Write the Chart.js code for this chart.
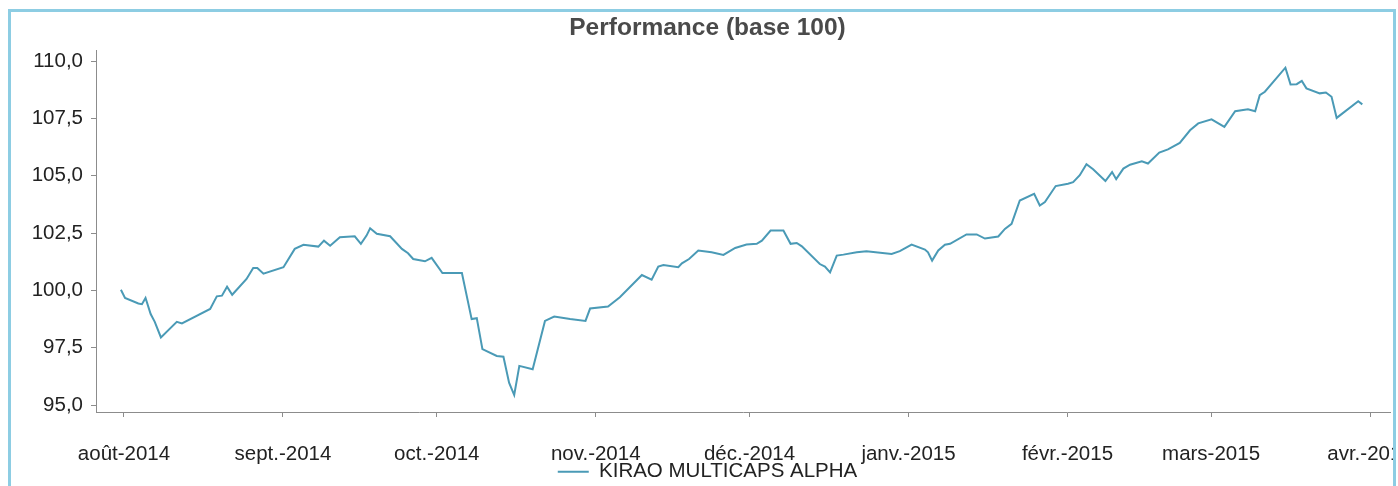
<!DOCTYPE html>
<html><head><meta charset="utf-8">
<script src="https://cdn.jsdelivr.net/npm/chart.js@4.4.1/dist/chart.umd.min.js"></script>
<style>
html,body{margin:0;padding:0;background:#fff;overflow:hidden;}
#frame{position:absolute;left:8px;top:9px;width:1382px;height:500px;border:3px solid #8dcde3;overflow:hidden;background:#fff;}
#c{position:absolute;left:0;top:0;}
</style></head><body>
<div id="frame"><canvas id="c" width="1460" height="500"></canvas></div>
<script>
const chartTitle = 'Performance (base 100)';
const seriesName = 'KIRAO MULTICAPS ALPHA';
// days since 2014-08-01
const dayOffsets = [-0.6,0.2,2.8,3.5,4.2,5.2,6.0,7.2,10.3,11.3,16.8,18.1,19.1,20.1,21.1,23.9,25.2,26.0,27.2,31.1,
  33.3,35.0,37.9,39.0,40.2,42.1,45.0,46.2,47.3,48.0,49.3,51.9,54.2,55.4,56.4,58.7,60.0,62.1,65.9,67.8,
  68.8,69.9,72.7,74.0,75.1,76.1,77.1,79.7,82.1,83.9,87.0,90.0,90.9,94.4,96.7,101.0,102.9,104.2,105.2,108.1,
  108.8,110.2,112.0,114.6,116.9,119.2,121.4,123.4,124.4,126.1,128.6,130.0,131.2,132.2,135.7,136.7,137.7,139.0,140.3,142.9,
  144.8,149.7,151.3,153.6,156.2,156.8,157.6,158.8,160.1,161.1,164.3,166.3,167.9,170.5,171.8,173.1,174.7,177.5,178.6,179.6,
  181.7,184.1,185.1,186.4,187.7,189.0,191.4,192.7,193.5,194.9,196.2,198.5,199.7,201.9,203.6,205.9,207.9,209.5,212.1,214.6,
  216.7,219.2,220.6,221.5,222.5,226.5,227.5,228.7,229.7,230.6,233.2,234.4,235.5,236.5,240.7,241.5];
const values = [100.03,99.67,99.43,99.40,99.67,98.97,98.63,97.95,98.63,98.56,99.19,99.74,99.77,100.16,99.81,100.50,100.98,100.98,100.73,101.01,
  101.81,101.99,101.91,102.17,101.95,102.32,102.36,102.03,102.39,102.71,102.47,102.36,101.81,101.62,101.37,101.27,101.42,100.76,100.76,98.75,
  98.79,97.44,97.14,97.11,95.98,95.44,96.71,96.56,98.67,98.86,98.75,98.67,99.21,99.30,99.70,100.67,100.47,101.04,101.11,101.01,
  101.18,101.37,101.74,101.66,101.55,101.85,102.00,102.03,102.17,102.61,102.61,102.03,102.07,101.92,101.15,101.04,100.79,101.52,101.56,101.66,
  101.71,101.59,101.71,102.00,101.78,101.66,101.30,101.74,101.99,102.03,102.44,102.44,102.26,102.35,102.68,102.90,103.92,104.21,103.70,103.85,
  104.55,104.65,104.72,105.02,105.50,105.28,104.77,105.16,104.85,105.31,105.48,105.63,105.53,106.01,106.15,106.43,106.98,107.28,107.46,107.13,
  107.81,107.90,107.81,108.51,108.66,109.71,108.98,108.99,109.13,108.81,108.59,108.63,108.44,107.52,108.25,108.11];
const xTickDays = [0,31,61,92,122,153,184,212,243];
const xTickLabels = ['août-2014','sept.-2014','oct.-2014','nov.-2014','déc.-2014','janv.-2015','févr.-2015','mars-2015','avr.-2015'];
const yTickValues = [95,97.5,100,102.5,105,107.5,110];

const points = dayOffsets.map((d,i)=>({x:d,y:values[i]}));
const FONT = "'Liberation Sans', Arial, sans-serif";
const axisColor = '#8c8c8c';
const LEGEND_TOP = 439.5;

const legendShift = {
  id: 'legendShift',
  afterLayout(chart) {
    const l = chart.legend;
    if (!l) return;
    const dy = LEGEND_TOP - l.top;
    l.top += dy; l.bottom += dy;
  }
};

new Chart(document.getElementById('c'), {
  type: 'line',
  data: { datasets: [{
    label: seriesName,
    data: points,
    borderColor: '#4a9ab6',
    backgroundColor: '#4a9ab6',
    borderWidth: 2,
    pointRadius: 0,
    tension: 0,
    fill: false
  }]},
  plugins: [legendShift],
  options: {
    responsive: false,
    animation: false,
    devicePixelRatio: 1,
    layout: { padding: { left: 14, right: 81, top: 0, bottom: 2.5 } },
    plugins: {
      title: {
        display: true, text: chartTitle, color: '#4a4a4a',
        font: { family: FONT, size: 24.5, weight: 'bold' },
        padding: { top: 2, bottom: 6.6 }
      },
      legend: {
        position: 'bottom',
        labels: {
          usePointStyle: true, pointStyle: 'line', pointStyleWidth: 31,
          color: '#222', font: { family: FONT, size: 20.5 }, padding: 10
        }
      },
      tooltip: { enabled: false }
    },
    scales: {
      x: {
        type: 'linear', min: -5.46, max: 246.9,
        afterBuildTicks: s => { s.ticks = xTickDays.map(v=>({value:v})); },
        afterFit: s => { s.height = 57; },
        ticks: {
          autoSkip: false, maxRotation: 0, padding: 25, color: '#222',
          font: { family: FONT, size: 20.5 },
          callback: (v) => { const i = xTickDays.indexOf(v); return i >= 0 ? xTickLabels[i] : ''; }
        },
        grid: { display: true, drawOnChartArea: false, drawTicks: true, tickLength: 5, color: axisColor },
        border: { display: true, color: axisColor, width: 1 }
      },
      y: {
        type: 'linear', min: 94.7, max: 110.48,
        afterBuildTicks: s => { s.ticks = yTickValues.map(v=>({value:v})); },
        afterFit: s => { s.width = 71; },
        ticks: {
          padding: 8, color: '#222', font: { family: FONT, size: 20.5 },
          callback: v => v.toFixed(1).replace('.', ',')
        },
        grid: { display: true, drawOnChartArea: false, drawTicks: true, tickLength: 5, color: axisColor },
        border: { display: true, color: axisColor, width: 1 }
      }
    }
  }
});
</script>
</body></html>
